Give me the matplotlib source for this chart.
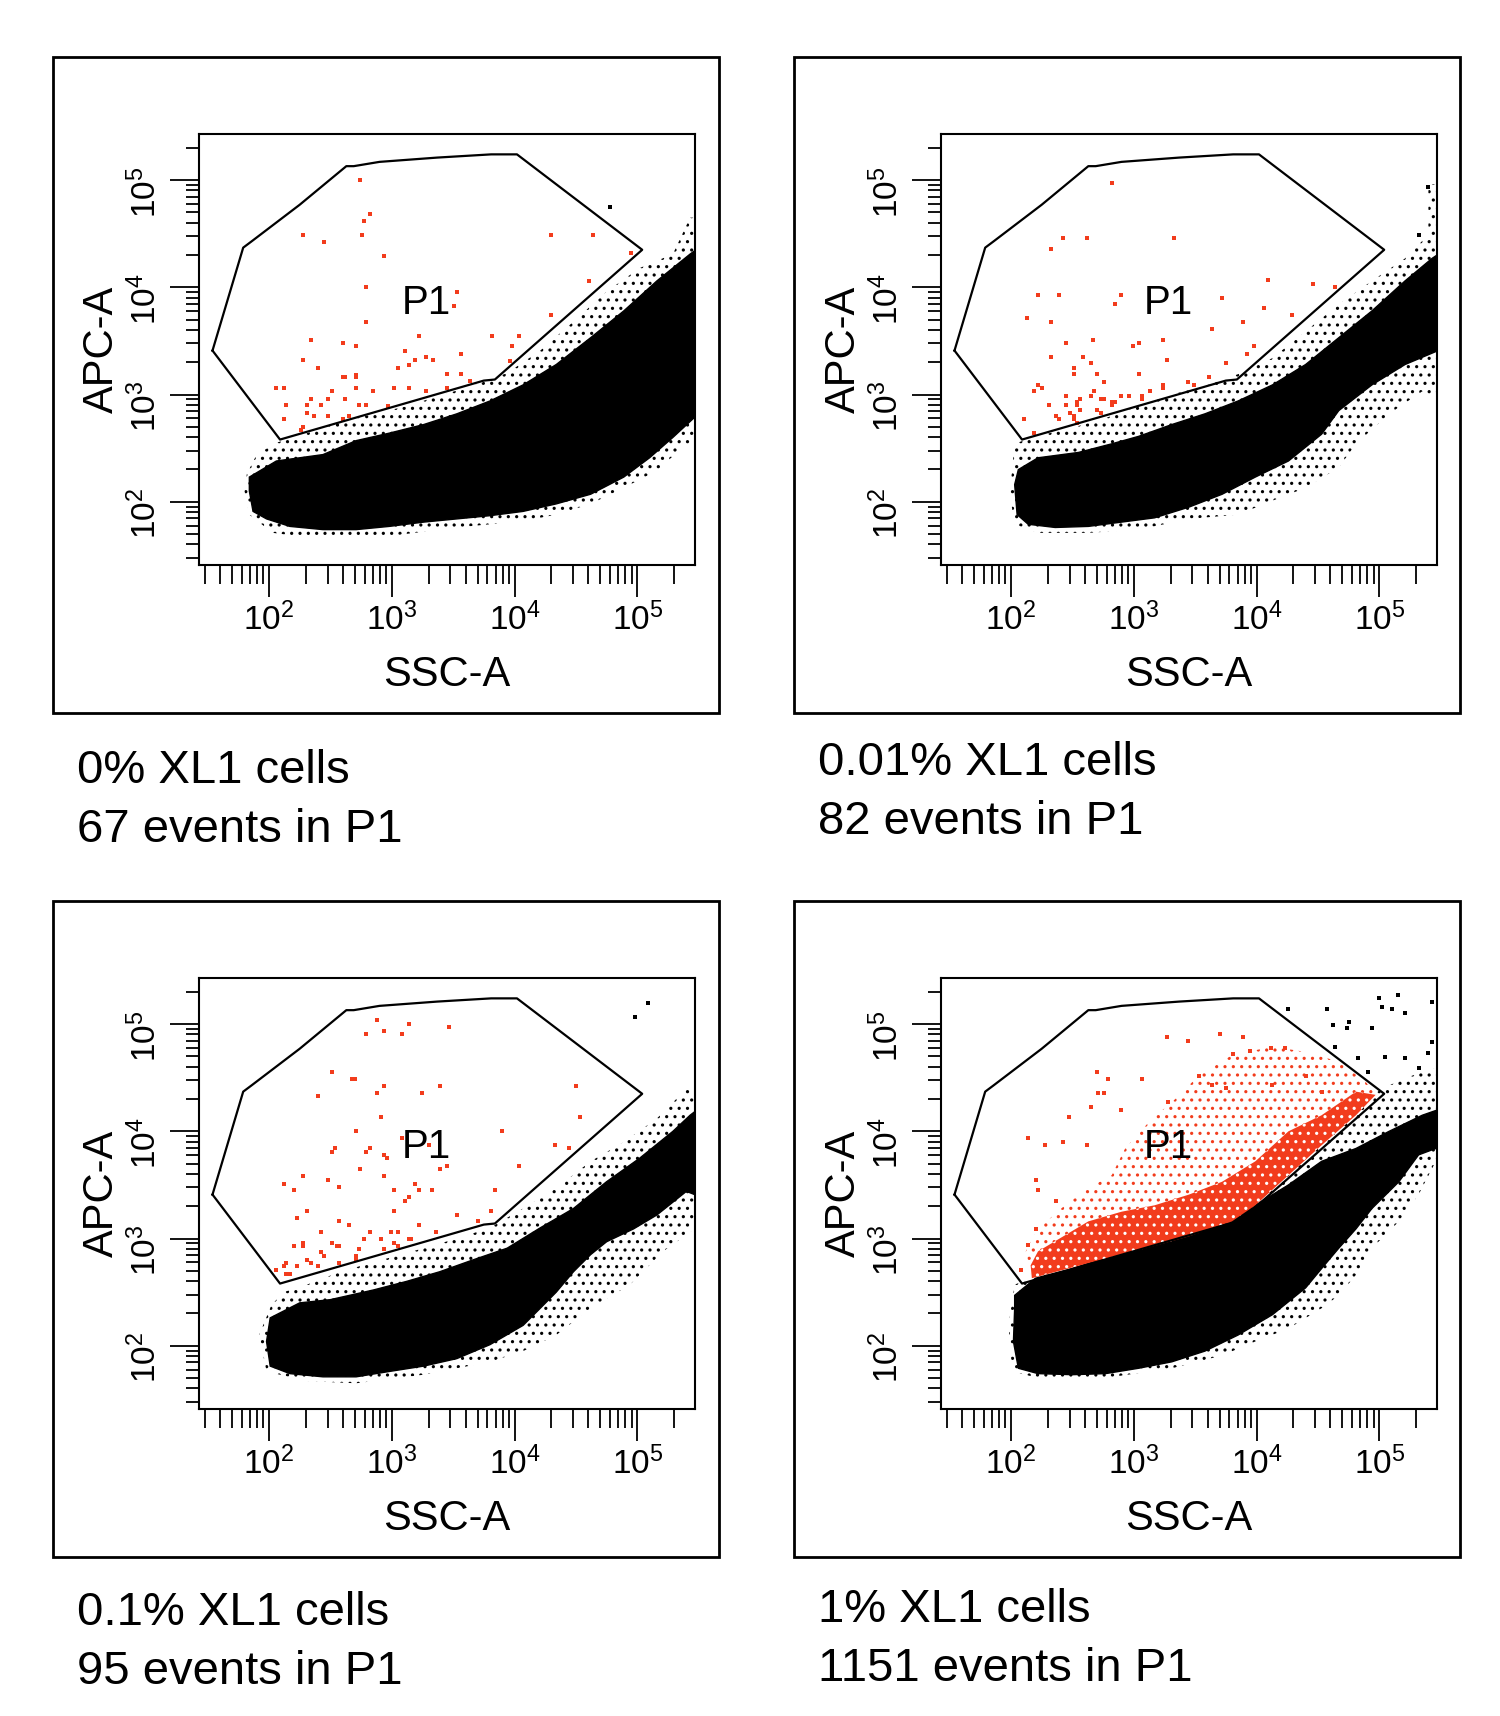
import numpy as np
import matplotlib
matplotlib.use('Agg')
import matplotlib.pyplot as plt
from matplotlib.patches import Rectangle
from matplotlib.ticker import FixedLocator, FixedFormatter, LogLocator, NullFormatter

plt.rcParams['font.family'] = ['Liberation Sans', 'DejaVu Sans']
plt.rcParams['mathtext.fontset'] = 'custom'
plt.rcParams['mathtext.rm'] = 'Liberation Sans'
plt.rcParams['mathtext.it'] = 'Liberation Sans'
plt.rcParams['mathtext.bf'] = 'Liberation Sans:bold'
plt.rcParams['mathtext.default'] = 'regular'
plt.rcParams['hatch.linewidth'] = 1.1

# every coordinate below is log10 of the channel value (decades)
ssc_lim = (1.43, 5.47)
apc_lim = (1.41, 5.43)
major_ticks = [2, 3, 4, 5]
tick_labels = [r'$10^{2}$', r'$10^{3}$', r'$10^{4}$', r'$10^{5}$']

# P1 gate, same template on all four plots
gate_ssc = [1.54, 1.79, 1.86, 2.25, 2.63, 2.69, 2.90, 3.37, 3.81, 4.02, 5.04, 3.84, 3.75, 2.09, 1.54]
gate_apc = [3.41, 4.37, 4.43, 4.77, 5.13, 5.13, 5.17, 5.21, 5.24, 5.24, 4.35, 3.14, 3.13, 2.58, 3.41]
p1_label = (3.28, 3.85)

captions = [("0% XL1 cells", "67 events in P1"),
            ("0.01% XL1 cells", "82 events in P1"),
            ("0.1% XL1 cells", "95 events in P1"),
            ("1% XL1 cells", "1151 events in P1")]

# ---- plot 1 : 0% ----
p1_core_ssc = [1.84, 2.06, 2.44, 2.71, 2.98, 3.26, 3.53, 3.80, 4.07, 4.34, 4.62, 4.89, 5.16, 5.43, 5.60, 5.60,
               5.46, 5.29, 5.10, 4.89, 4.62, 4.34, 4.07, 3.80, 3.53, 3.26, 2.98, 2.71, 2.44, 2.17, 1.98, 1.87, 1.84]
p1_core_apc = [2.23, 2.38, 2.44, 2.57, 2.64, 2.72, 2.82, 2.94, 3.09, 3.28, 3.53, 3.78, 4.06, 4.31, 4.45, 2.70,
               2.78, 2.60, 2.41, 2.23, 2.07, 1.98, 1.91, 1.87, 1.84, 1.81, 1.77, 1.74, 1.74, 1.77, 1.84, 1.91, 2.10]
p1_fringe_ssc = [1.82, 1.90, 2.06, 2.31, 2.58, 2.85, 3.12, 3.39, 3.66, 3.94, 4.21, 4.48, 4.75, 5.02, 5.29, 5.43, 5.60,
                 5.60, 5.40, 5.16, 4.89, 4.62, 4.34, 4.07, 3.53, 2.98, 2.44, 2.03, 1.84, 1.80]
p1_fringe_apc = [2.26, 2.44, 2.55, 2.64, 2.74, 2.82, 2.89, 2.99, 3.08, 3.20, 3.41, 3.68, 3.96, 4.18, 4.31, 4.65, 4.65,
                 2.40, 2.54, 2.29, 2.13, 1.98, 1.88, 1.82, 1.76, 1.68, 1.65, 1.71, 1.88, 2.10]
p1_red_ssc = [2.74, 2.82, 2.77, 2.76, 2.28, 2.45, 2.94, 4.30, 4.64, 4.95, 4.61, 2.79, 3.53, 3.51, 4.30, 2.79, 2.34,
              2.60, 3.22, 2.71, 3.82, 4.04, 3.11, 3.56, 3.98, 2.28, 2.40, 3.05, 3.14, 3.19, 3.28, 3.34, 3.96, 2.60,
              2.62, 2.71, 2.71, 3.45, 3.56, 3.64, 2.06, 2.12, 2.51, 2.71, 2.85, 3.02, 3.14, 3.28, 3.45, 2.14, 2.34,
              2.48, 2.62, 2.73, 2.79, 2.31, 2.42, 2.31, 2.37, 2.48, 2.12, 2.28, 2.26, 2.60, 2.65, 2.97]
p1_red_apc = [5.00, 4.68, 4.62, 4.49, 4.49, 4.42, 4.29, 4.49, 4.49, 4.32, 4.06, 4.00, 3.96, 3.83, 3.74, 3.68, 3.51,
              3.48, 3.55, 3.45, 3.55, 3.55, 3.41, 3.38, 3.45, 3.32, 3.25, 3.25, 3.28, 3.32, 3.35, 3.32, 3.31, 3.16,
              3.16, 3.18, 3.16, 3.19, 3.19, 3.13, 3.06, 3.06, 3.03, 3.06, 3.03, 3.06, 3.06, 3.03, 3.06, 2.90, 2.96,
              2.96, 2.96, 2.90, 2.90, 2.90, 2.90, 2.83, 2.80, 2.80, 2.77, 2.70, 2.67, 2.77, 2.80, 2.89]
p1_black_ssc = [4.78]
p1_black_apc = [4.75]

# ---- plot 2 : 0.01% ----
p2_core_ssc = [2.06, 2.22, 2.55, 2.82, 3.04, 3.31, 3.58, 3.85, 4.13, 4.40, 4.67, 4.94, 5.21, 5.43, 5.60, 5.60,
               5.48, 5.21, 4.94, 4.67, 4.53, 4.26, 3.99, 3.72, 3.45, 3.17, 2.90, 2.63, 2.36, 2.14, 2.05, 2.03]
p2_core_apc = [2.30, 2.41, 2.46, 2.54, 2.61, 2.72, 2.82, 2.94, 3.09, 3.28, 3.53, 3.78, 4.06, 4.27, 4.40, 3.30,
               3.41, 3.28, 3.09, 2.85, 2.63, 2.38, 2.23, 2.07, 1.95, 1.85, 1.81, 1.77, 1.76, 1.79, 1.88, 2.16]
p2_fringe_ssc = [2.03, 2.17, 2.50, 2.77, 3.04, 3.31, 3.58, 3.85, 4.13, 4.40, 4.67, 4.94, 5.21, 5.40, 5.40, 5.60,
                 5.60, 5.35, 5.08, 4.81, 4.67, 4.40, 4.13, 3.85, 3.45, 3.04, 2.63, 2.22, 2.03, 1.99]
p2_fringe_apc = [2.54, 2.60, 2.69, 2.78, 2.89, 3.00, 3.08, 3.19, 3.34, 3.59, 3.84, 4.06, 4.27, 4.49, 4.96, 4.96,
                 2.90, 3.03, 2.82, 2.54, 2.32, 2.13, 2.01, 1.88, 1.84, 1.74, 1.71, 1.71, 1.79, 2.07]
p2_red_ssc = [2.82, 2.42, 2.62, 3.33, 2.33, 2.22, 2.39, 2.90, 2.85, 3.72, 4.09, 4.46, 4.64, 4.06, 4.29, 2.13, 2.33,
              3.64, 3.89, 2.45, 2.67, 2.99, 3.04, 3.24, 3.98, 2.33, 2.59, 2.65, 3.27, 3.92, 3.75, 2.51, 2.51, 2.70,
              3.04, 2.76, 3.61, 3.44, 3.49, 2.22, 2.25, 2.19, 2.45, 2.65, 2.68, 2.73, 2.76, 2.82, 2.85, 2.90, 2.96,
              3.07, 3.13, 3.24, 3.24, 2.31, 2.45, 2.54, 2.56, 2.54, 2.56, 2.48, 2.51, 2.37, 2.39, 2.73, 2.70, 2.82,
              2.11, 2.19, 2.51, 2.54, 3.07]
p2_red_apc = [4.97, 4.46, 4.46, 4.46, 4.36, 3.93, 3.93, 3.93, 3.84, 3.90, 4.07, 4.03, 4.00, 3.81, 3.74, 3.71, 3.68,
              3.61, 3.68, 3.48, 3.51, 3.45, 3.48, 3.51, 3.45, 3.35, 3.35, 3.29, 3.32, 3.38, 3.29, 3.25, 3.19, 3.19,
              3.19, 3.12, 3.16, 3.12, 3.09, 3.09, 3.06, 3.03, 2.99, 2.99, 3.03, 2.96, 2.96, 2.93, 2.93, 2.99, 2.99,
              2.99, 3.03, 3.06, 3.09, 2.90, 2.90, 2.93, 2.96, 2.90, 2.86, 2.83, 2.80, 2.80, 2.77, 2.83, 2.86, 2.90,
              2.77, 2.64, 2.77, 2.73, 2.96]
p2_black_ssc = [5.40, 5.32]
p2_black_apc = [4.94, 4.49]

# ---- plot 3 : 0.1% ----
p3_core_ssc = [2.01, 2.25, 2.50, 2.85, 3.12, 3.39, 3.66, 3.94, 4.21, 4.48, 4.75, 5.02, 5.29, 5.43, 5.60, 5.60,
               5.40, 5.16, 4.97, 4.75, 4.62, 4.48, 4.34, 4.21, 4.07, 3.80, 3.53, 3.26, 2.98, 2.71, 2.44, 2.17, 2.01, 1.98]
p3_core_apc = [2.26, 2.40, 2.43, 2.52, 2.60, 2.69, 2.80, 2.91, 3.10, 3.28, 3.53, 3.75, 4.00, 4.15, 4.30, 3.35,
               3.44, 3.22, 3.09, 2.97, 2.85, 2.69, 2.50, 2.35, 2.19, 2.01, 1.88, 1.81, 1.76, 1.71, 1.71, 1.74, 1.81, 2.04]
p3_fringe_ssc = [2.02, 2.12, 2.31, 2.58, 2.98, 3.26, 3.53, 3.80, 4.07, 4.34, 4.62, 4.89, 5.16, 5.43, 5.60,
                 5.60, 5.21, 4.94, 4.62, 4.34, 4.07, 3.80, 3.26, 2.71, 2.31, 1.98, 1.92]
p3_fringe_apc = [2.38, 2.50, 2.57, 2.69, 2.82, 2.91, 3.00, 3.10, 3.28, 3.47, 3.72, 3.90, 4.12, 4.43, 4.43,
                 3.20, 2.88, 2.57, 2.35, 2.10, 1.95, 1.85, 1.73, 1.65, 1.67, 1.76, 2.10]
p3_red_ssc = [2.88, 3.14, 2.94, 2.79, 3.08, 3.47, 2.51, 2.68, 2.70, 2.94, 3.39, 2.88, 3.25, 2.40, 4.50, 2.91, 4.53,
              2.71, 3.08, 3.30, 3.90, 4.33, 4.44, 2.54, 2.51, 2.82, 2.79, 2.94, 2.96, 3.45, 3.39, 4.04, 2.74, 2.28,
              2.48, 2.94, 2.12, 2.20, 2.57, 3.19, 3.22, 3.33, 3.02, 3.84, 3.14, 3.11, 2.31, 3.02, 3.53, 3.81, 2.23,
              2.57, 2.65, 3.22, 3.70, 2.42, 2.82, 2.99, 3.05, 3.36, 2.28, 2.28, 2.20, 2.51, 2.55, 2.77, 2.91, 3.02,
              3.14, 3.16, 2.57, 2.42, 2.45, 2.73, 2.94, 2.31, 2.34, 2.14, 2.23, 2.12, 2.14, 2.17, 2.06, 2.40, 2.57,
              2.71, 3.05, 2.71]
p3_red_apc = [5.04, 5.00, 4.94, 4.91, 4.91, 4.97, 4.55, 4.49, 4.49, 4.42, 4.42, 4.36, 4.36, 4.33, 4.42, 4.13, 4.13,
              4.00, 3.94, 3.87, 4.00, 3.87, 3.84, 3.84, 3.81, 3.84, 3.81, 3.78, 3.75, 3.68, 3.65, 3.68, 3.65, 3.58,
              3.55, 3.58, 3.51, 3.45, 3.48, 3.51, 3.45, 3.45, 3.45, 3.45, 3.39, 3.35, 3.26, 3.26, 3.22, 3.26, 3.19,
              3.16, 3.13, 3.13, 3.16, 3.06, 3.06, 3.06, 3.06, 3.06, 2.96, 2.93, 2.93, 2.96, 2.93, 3.00, 3.00, 2.96,
              3.00, 3.00, 2.93, 2.87, 2.84, 2.90, 2.90, 2.80, 2.77, 2.77, 2.74, 2.74, 2.67, 2.67, 2.71, 2.74, 2.77,
              2.84, 2.93, 2.80]
p3_black_ssc = [5.09, 4.98]
p3_black_apc = [5.20, 5.07]

# ---- plot 4 : 1% ----
p4_core_ssc = [2.03, 2.20, 2.50, 2.77, 3.04, 3.31, 3.58, 3.80, 3.99, 4.26, 4.53, 4.81, 5.08, 5.35, 5.60, 5.60,
               5.46, 5.32, 5.16, 4.94, 4.81, 4.67, 4.53, 4.40, 4.13, 3.85, 3.58, 3.31, 3.04, 2.77, 2.50, 2.22, 2.06,
               2.02, 2.03]
p4_core_apc = [2.47, 2.63, 2.72, 2.82, 2.91, 3.00, 3.09, 3.19, 3.31, 3.50, 3.72, 3.84, 4.00, 4.15, 4.25, 3.70,
               3.84, 3.78, 3.53, 3.28, 3.09, 2.91, 2.72, 2.54, 2.29, 2.10, 1.95, 1.85, 1.79, 1.74, 1.73, 1.74, 1.79,
               2.04, 2.35]
p4_fringe_ssc = [2.03, 2.50, 3.04, 3.58, 3.99, 4.26, 4.53, 4.81, 5.02, 5.27, 5.46, 5.60, 5.60, 5.46, 5.32, 5.16,
                 4.94, 4.81, 4.67, 4.53, 4.26, 3.99, 3.72, 3.31, 2.77, 2.22, 2.01, 1.98]
p4_fringe_apc = [2.57, 2.78, 2.97, 3.16, 3.37, 3.65, 3.96, 4.21, 4.40, 4.52, 4.59, 4.65, 3.30, 3.72, 3.41, 3.16,
                 2.91, 2.66, 2.47, 2.35, 2.16, 2.04, 1.91, 1.79, 1.70, 1.70, 1.76, 2.19]
p4_dense_ssc = [2.17, 2.63, 3.04, 3.45, 3.80, 3.99, 4.26, 4.53, 4.81, 4.97, 4.81, 4.53, 4.26, 3.99, 3.72, 3.45,
                3.17, 2.90, 2.63, 2.44, 2.22, 2.16]
p4_dense_apc = [2.63, 2.77, 2.89, 3.02, 3.16, 3.31, 3.59, 3.87, 4.15, 4.34, 4.37, 4.15, 4.00, 3.72, 3.53, 3.41,
                3.31, 3.25, 3.16, 3.03, 2.88, 2.75]
p4_mid_ssc = [2.17, 2.63, 3.04, 3.45, 3.80, 3.99, 4.26, 4.53, 4.81, 4.97, 4.89, 4.67, 4.40, 4.13, 3.80, 3.53,
              3.31, 3.15, 2.93, 2.82, 2.63, 2.44, 2.22, 2.12]
p4_mid_apc = [2.63, 2.77, 2.89, 3.02, 3.16, 3.31, 3.59, 3.87, 4.15, 4.34, 4.46, 4.65, 4.74, 4.79, 4.71, 4.52,
              4.27, 4.12, 3.84, 3.59, 3.47, 3.31, 3.09, 2.88]
p4_red_ssc = [3.27, 3.44, 3.70, 3.89, 4.12, 4.23, 3.81, 3.95, 2.70, 2.79, 3.07, 3.53, 2.71, 2.76, 2.65, 2.90, 2.47,
              2.14, 2.28, 2.42, 2.62, 2.20, 2.22, 2.37, 2.20, 2.14, 2.08, 3.28, 3.64, 3.75, 4.13, 4.40, 4.53]
p4_red_apc = [4.88, 4.84, 4.91, 4.88, 4.78, 4.78, 4.72, 4.75, 4.55, 4.49, 4.49, 4.52, 4.36, 4.36, 4.23, 4.20, 4.13,
              3.94, 3.87, 3.90, 3.87, 3.55, 3.45, 3.35, 3.09, 2.94, 2.71, 4.27, 4.43, 4.40, 4.43, 4.52, 4.37]
p4_black_ssc = [4.26, 4.57, 4.75, 4.74, 4.94, 5.00, 5.15, 5.21, 5.43, 4.64, 5.05, 5.21, 5.32, 5.40, 5.02, 5.10,
                4.62, 4.83, 4.91, 5.43]
p4_black_apc = [5.14, 5.14, 5.02, 4.96, 4.96, 5.24, 5.27, 5.10, 5.21, 4.79, 4.69, 4.68, 4.59, 4.73, 5.16, 5.14,
                4.99, 4.68, 4.55, 4.83]

RED = '#f23c1c'
W, H = 1500, 1716

panels = [
    dict(core=(p1_core_ssc, p1_core_apc), fringe=(p1_fringe_ssc, p1_fringe_apc),
         red=(p1_red_ssc, p1_red_apc), black=(p1_black_ssc, p1_black_apc)),
    dict(core=(p2_core_ssc, p2_core_apc), fringe=(p2_fringe_ssc, p2_fringe_apc),
         red=(p2_red_ssc, p2_red_apc), black=(p2_black_ssc, p2_black_apc)),
    dict(core=(p3_core_ssc, p3_core_apc), fringe=(p3_fringe_ssc, p3_fringe_apc),
         red=(p3_red_ssc, p3_red_apc), black=(p3_black_ssc, p3_black_apc)),
    dict(core=(p4_core_ssc, p4_core_apc), fringe=(p4_fringe_ssc, p4_fringe_apc),
         red=(p4_red_ssc, p4_red_apc), black=(p4_black_ssc, p4_black_apc),
         dense=(p4_dense_ssc, p4_dense_apc), mid=(p4_mid_ssc, p4_mid_apc)),
]

# layout in pixels (left, top) of each plot area, the outer boxes and captions
ax_left = [199, 941, 199, 941]
ax_top = [134, 134, 978, 978]
ax_w, ax_h = 496, 431
box_left = [53, 794, 53, 794]
box_top = [57, 57, 901, 901]
box_w, box_h = 666, 656
cap_left = [77, 818, 77, 818]
cap_base = [783, 775, 1625, 1622]


def dec(v):
    return np.power(10.0, np.asarray(v))


fig = plt.figure(figsize=(W / 100, H / 100), dpi=100)

for i, p in enumerate(panels):
    ax = fig.add_axes([ax_left[i] / W, 1 - (ax_top[i] + ax_h) / H, ax_w / W, ax_h / H])
    ax.set_xscale('log')
    ax.set_yscale('log')

    fx, fy = p['fringe']
    ax.fill(dec(fx), dec(fy), facecolor='none', edgecolor='black', hatch='..', linewidth=0, zorder=1)
    cx, cy = p['core']
    ax.fill(dec(cx), dec(cy), color='black', linewidth=1.0, zorder=2)
    if 'mid' in p:
        mx, my = p['mid']
        ax.fill(dec(mx), dec(my), facecolor='none', edgecolor=RED, hatch='..', linewidth=0, zorder=3)
        dx, dy = p['dense']
        ax.fill(dec(dx), dec(dy), facecolor=RED, edgecolor='white', hatch='..', linewidth=0, zorder=3)
    bx, by = p['black']
    ax.scatter(dec(bx), dec(by), s=6.5, marker='s', color='black', linewidths=0, zorder=3)
    rx, ry = p['red']
    ax.scatter(dec(rx), dec(ry), s=7, marker='s', color=RED, linewidths=0, zorder=4)

    ax.plot(dec(gate_ssc), dec(gate_apc), color='black', linewidth=1.6, zorder=5)
    ax.text(10 ** p1_label[0], 10 ** p1_label[1], 'P1', fontsize=29, ha='center', va='center', zorder=6)

    ax.set_xlim(dec(ssc_lim))
    ax.set_ylim(dec(apc_lim))

    for axis in (ax.xaxis, ax.yaxis):
        axis.set_major_locator(FixedLocator(dec(major_ticks)))
        axis.set_major_formatter(FixedFormatter(tick_labels))
        axis.set_minor_locator(LogLocator(base=10, subs=np.arange(2, 10), numticks=20))
        axis.set_minor_formatter(NullFormatter())
    ax.tick_params(axis='x', which='major', length=23, width=1.3, labelsize=24, pad=4)
    ax.tick_params(axis='x', which='minor', length=14, width=1.3)
    ax.tick_params(axis='y', which='major', length=21, width=1.3, labelsize=24, pad=5, labelrotation=90)
    ax.tick_params(axis='y', which='minor', length=9.5, width=1.3)
    for sp in ax.spines.values():
        sp.set_linewidth(1.5)

    ax.set_xlabel('SSC-A', fontsize=30, labelpad=13)
    ax.set_ylabel('APC-A', fontsize=30, labelpad=5)

    fig.add_artist(Rectangle((box_left[i] / W, 1 - (box_top[i] + box_h) / H), box_w / W, box_h / H,
                             transform=fig.transFigure, fill=False, edgecolor='black', linewidth=2.0))
    line1, line2 = captions[i]
    fig.text(cap_left[i] / W, 1 - cap_base[i] / H, line1, fontsize=34, va='baseline')
    fig.text(cap_left[i] / W, 1 - (cap_base[i] + 59) / H, line2, fontsize=34, va='baseline')

fig.savefig('out.png', dpi=100)
